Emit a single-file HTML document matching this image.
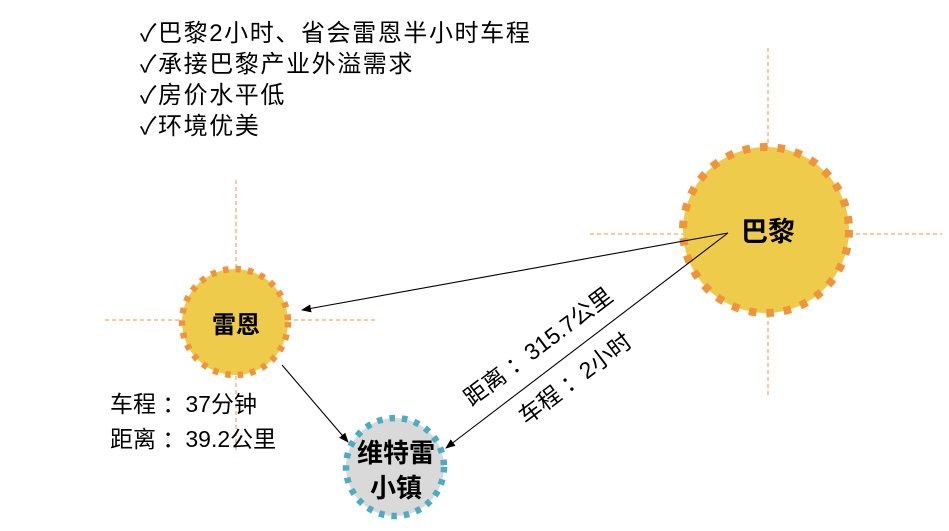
<!DOCTYPE html>
<html><head><meta charset="utf-8"><style>
html,body{margin:0;padding:0;background:#fff;width:949px;height:531px;overflow:hidden}
svg text{font-family:"Liberation Sans","Noto Sans CJK SC",sans-serif}
</style></head><body>
<svg width="949" height="531" viewBox="0 0 949 531" xmlns="http://www.w3.org/2000/svg">
<defs><marker id="a" markerWidth="10" markerHeight="8" refX="9" refY="4" orient="auto" markerUnits="userSpaceOnUse"><path d="M0,0 L10,4 L0,8 Z" fill="#000"/></marker></defs>
<g stroke="#F0943C" stroke-width="1" stroke-dasharray="4,3" fill="none">
<line x1="768" y1="48" x2="768" y2="398"/><line x1="590" y1="234" x2="942" y2="234"/>
<line x1="236" y1="180" x2="236" y2="450"/><line x1="105" y1="320" x2="378" y2="320"/>
</g>
<circle cx="766" cy="230" r="83" fill="#EECB4A" stroke="#F0943C" stroke-width="8" stroke-dasharray="7.5,10"/>
<circle cx="235" cy="322" r="53" fill="#EECB4A" stroke="#F0943C" stroke-width="6.5" stroke-dasharray="5.5,7"/>
<circle cx="395" cy="467" r="49" fill="#D9D9D9" stroke="#4BACC6" stroke-width="6.5" stroke-dasharray="5.5,7"/>
<g stroke="#000" stroke-width="1.1" fill="none">
<line x1="728" y1="233" x2="302" y2="310" marker-end="url(#a)"/>
<line x1="728" y1="233" x2="446" y2="448" marker-end="url(#a)"/>
<line x1="282" y1="365" x2="348" y2="442" marker-end="url(#a)"/>
</g>
<text x="768" y="241" font-size="27" font-weight="bold" text-anchor="middle">巴黎</text>
<text x="236" y="333" font-size="24" font-weight="bold" text-anchor="middle">雷恩</text>
<text x="396" y="462" font-size="26" font-weight="bold" text-anchor="middle">维特雷</text>
<text x="396" y="497" font-size="26" font-weight="bold" text-anchor="middle">小镇</text>
<g font-size="24" letter-spacing="1.6">
<text x="140" y="41">✓巴黎2小时、省会雷恩半小时车程</text>
<text x="140" y="72">✓承接巴黎产业外溢需求</text>
<text x="140" y="103">✓房价水平低</text>
<text x="140" y="134">✓环境优美</text>
</g>
<g font-size="23">
<text x="110" y="412">车程 ：37分钟</text>
<text x="110" y="447">距离 ：39.2公里</text>
</g>
<text font-size="23" text-anchor="middle" transform="translate(543,353) rotate(-37)">距离 ：315.7公里</text>
<text font-size="23" text-anchor="middle" transform="translate(580,385) rotate(-37)">车程 ：2小时</text>
</svg>
</body></html>
